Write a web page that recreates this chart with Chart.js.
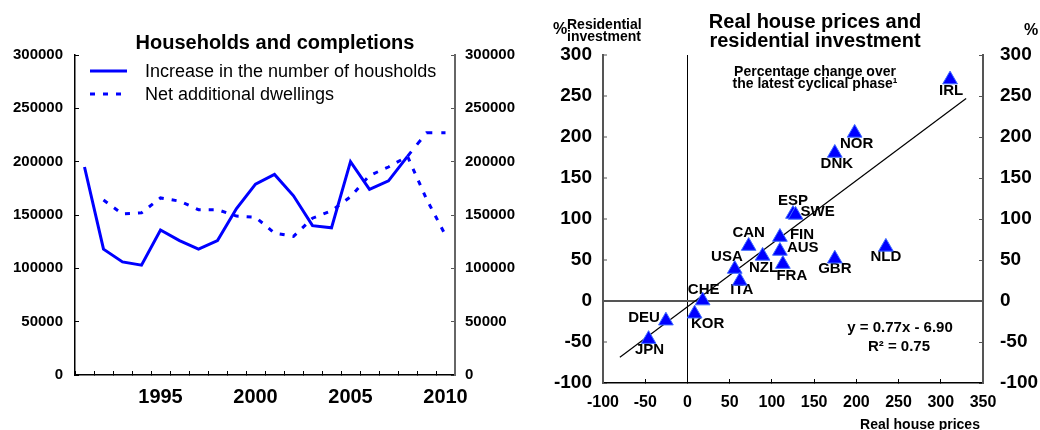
<!DOCTYPE html>
<html>
<head>
<meta charset="utf-8">
<script src="https://cdn.jsdelivr.net/npm/chart.js@4.4.1/dist/chart.umd.min.js"></script>
<style>
  html, body { margin: 0; padding: 0; background: #fff; }
  .wrap { display: flex; width: 1040px; height: 430px; }
  .box { position: relative; width: 520px; height: 430px; }
</style>
</head>
<body>
<div class="wrap">
  <div class="box"><canvas id="households-chart"></canvas></div>
  <div class="box"><canvas id="prices-chart"></canvas></div>
</div>
<script>
// <-- data for the households panel -->
const years = ["1991", "1992", "1993", "1994", "1995", "1996", "1997", "1998", "1999", "2000",
    "2001", "2002", "2003", "2004", "2005", "2006", "2007", "2008", "2009", "2010"];
const yearLabels = ["1995", "2000", "2005", "2010"];
const households = [195000, 118000, 106000, 103000, 136000, 126000, 118000, 126000, 156000, 179000,
    188000, 168000, 140000, 138000, 200000, 174000, 182000, 205000, 227000, 227000];
const dwellings = [null, 164000, 151000, 152000, 166000, 163000, 155000, 155000, 149000, 148000,
    133000, 130000, 147000, 154000, 167000, 187000, 195000, 205000, 165000, 131000];
const projectedFrom = "2008"; // households drawn dashed after this year

// <-- data for the house prices panel -->
const countries = ["IRL", "NOR", "DNK", "ESP", "SWE", "CAN", "FIN", "AUS", "USA",
    "NZL", "FRA", "ITA", "GBR", "NLD", "CHE", "KOR", "DEU", "JPN"];
const housePrices = [311, 198, 174.5, 125, 128, 72.5, 109.5, 109.5, 56,
    89, 113, 62, 174.5, 235, 18, 8.5, -25.5, -46];
const resInvestment = [270, 205, 180.5, 106, 105, 67, 78, 61, 39,
    55, 45, 24.5, 51.5, 66, 0.5, -15.5, -24, -46.5];
const trendX = [-80, 330];
const trendY = [-68.5, 247];

const FONT = '"Liberation Sans", Arial, sans-serif';
const BLUE = '#0000ff';

// where each country name sits next to its triangle: dx, dy, align
const labelPlacement = {
    IRL: [1, 11, 'center'], NOR: [2, 11, 'center'], DNK: [2, 11, 'center'],
    ESP: [0, -13, 'center'], SWE: [5, -3, 'left'], CAN: [0, -13, 'center'],
    FIN: [10, -2, 'left'], AUS: [7, -3, 'left'], USA: [8, -12, 'right'],
    NZL: [1, 12, 'center'], FRA: [9, 12, 'center'], ITA: [2, 9, 'center'],
    GBR: [0, 10, 'center'], NLD: [0, 10, 'center'], CHE: [1, -11, 'center'],
    KOR: [13, 10, 'center'], DEU: [-6, -3, 'right'], JPN: [1, 11, 'center']
};


// <-- Households and completions line chart -->
const householdsLegend = {
    id: 'householdsLegend',
    afterDraw(chart) {
        const ctx = chart.ctx;
        ctx.save();
        ctx.fillStyle = '#000';
        ctx.textBaseline = 'middle';
        ctx.textAlign = 'center';
        ctx.font = 'bold 20px ' + FONT;
        ctx.fillText('Households and completions', 275, 43);

        chart.data.datasets.forEach((ds, i) => {
            const y = 71 + i * 23;
            ctx.beginPath();
            ctx.setLineDash(ds.borderDash || []);
            ctx.lineWidth = ds.borderWidth;
            ctx.strokeStyle = ds.borderColor;
            ctx.moveTo(90, y);
            ctx.lineTo(127, y);
            ctx.stroke();
            ctx.setLineDash([]);
            ctx.font = '18px ' + FONT;
            ctx.textAlign = 'left';
            ctx.fillText(ds.label, 145, y + 1);
        });
        ctx.restore();
    }
};

const projIndex = years.indexOf(projectedFrom);

const householdsChart = new Chart(document.getElementById('households-chart'), {
    type: 'line',
    data: {
        labels: years,
        datasets: [{
            label: 'Increase in the number of housholds',
            data: households,
            borderColor: BLUE,
            borderWidth: 3,
            pointRadius: 0,
            tension: 0,
            segment: {
                borderDash: c => c.p0DataIndex >= projIndex ? [6, 9] : undefined
            }
        }, {
            label: 'Net additional dwellings',
            data: dwellings,
            borderColor: BLUE,
            borderWidth: 3,
            borderDash: [5, 8],
            pointRadius: 0,
            tension: 0
        }]
    },
    options: {
        responsive: true,
        maintainAspectRatio: false,
        animation: false,
        layout: { padding: { top: 55 } },
        plugins: { legend: { display: false }, tooltip: { enabled: false } },
        scales: {
            x: {
                offset: true,
                grid: { offset: true, drawOnChartArea: false, tickLength: -4, color: '#000' },
                border: { color: '#000', width: 1.5 },
                ticks: {
                    autoSkip: false,
                    maxRotation: 0,
                    padding: 14,
                    color: '#000',
                    font: { family: FONT, size: 20, weight: 'bold' },
                    callback: function (v) {
                        const y = this.getLabelForValue(v);
                        return yearLabels.includes(y) ? y : '';
                    }
                },
                afterFit: s => { s.height = 55; }
            },
            y: {
                position: 'left',
                min: 0, max: 300000,
                grid: { drawOnChartArea: false, tickLength: -4, color: '#000' },
                border: { color: '#000', width: 1.5 },
                ticks: {
                    stepSize: 50000, padding: 16, color: '#000',
                    font: { family: FONT, size: 15, weight: 'bold' },
                    callback: v => String(v)
                },
                afterFit: s => { s.width = 75; }
            },
            y2: {
                position: 'right',
                min: 0, max: 300000,
                grid: { drawOnChartArea: false, tickLength: -4, color: '#555' },
                border: { color: '#666', width: 2 },
                ticks: {
                    stepSize: 50000, padding: 14, color: '#000',
                    font: { family: FONT, size: 15, weight: 'bold' },
                    callback: v => String(v)
                },
                afterFit: s => { s.width = 65; }
            }
        }
    },
    plugins: [householdsLegend]
});


// <-- Real house prices scatter chart -->
const countryLabels = {
    id: 'countryLabels',
    beforeDatasetsDraw(chart) {
        const ctx = chart.ctx;
        const meta = chart.getDatasetMeta(0);
        ctx.save();
        ctx.font = 'bold 15px ' + FONT;
        ctx.fillStyle = '#000';
        ctx.textBaseline = 'middle';
        meta.data.forEach((pt, i) => {
            const p = labelPlacement[countries[i]];
            ctx.textAlign = p[2];
            ctx.fillText(countries[i], pt.x + p[0], pt.y + p[1]);
        });
        ctx.restore();
    }
};

const pricesText = {
    id: 'pricesText',
    afterDraw(chart) {
        const ctx = chart.ctx;
        ctx.save();
        ctx.fillStyle = '#000';
        ctx.textBaseline = 'middle';
        ctx.textAlign = 'center';
        ctx.font = 'bold 20px ' + FONT;
        ctx.fillText('Real house prices and', 295, 22);
        ctx.fillText('residential investment', 295, 41);
        ctx.font = 'bold 14px ' + FONT;
        ctx.fillText('Percentage change over', 295, 72);
        ctx.fillText('the latest cyclical phase\u00b9', 295, 84);
        ctx.font = 'bold 15px ' + FONT;
        ctx.fillText('y = 0.77x - 6.90', 380, 328);
        ctx.fillText('R\u00b2 = 0.75', 379, 347);
        ctx.font = 'bold 14px ' + FONT;
        ctx.fillText('Real house prices', 400, 425);
        ctx.font = 'bold 16px ' + FONT;
        ctx.fillText('%', 40, 30);
        ctx.fillText('%', 511, 31);
        ctx.textAlign = 'left';
        ctx.font = 'bold 14px ' + FONT;
        ctx.fillText('Residential', 47, 25);
        ctx.fillText('investment', 47, 37);
        ctx.restore();
    }
};

const pointData = countries.map((c, i) => ({ x: housePrices[i], y: resInvestment[i] }));
const trendData = trendX.map((x, i) => ({ x: x, y: trendY[i] }));

const pricesChart = new Chart(document.getElementById('prices-chart'), {
    type: 'scatter',
    data: {
        datasets: [{
            label: 'Countries',
            data: pointData,
            pointStyle: 'triangle',
            pointRadius: 8.5,
            backgroundColor: '#0000ff',
            borderColor: '#3f6bff',
            borderWidth: 1
        }, {
            label: 'Trend',
            data: trendData,
            showLine: true,
            borderColor: '#000',
            borderWidth: 1.2,
            pointRadius: 0
        }]
    },
    options: {
        responsive: true,
        maintainAspectRatio: false,
        animation: false,
        layout: { padding: { top: 55 } },
        plugins: { legend: { display: false }, tooltip: { enabled: false } },
        scales: {
            x: {
                type: 'linear',
                min: -100, max: 350,
                grid: {
                    tickLength: -4,
                    color: c => c.tick && c.tick.value === 0 ? '#000' : 'rgba(0,0,0,0)',
                    tickColor: '#000',
                    lineWidth: 1
                },
                border: { color: '#000', width: 1.5 },
                ticks: {
                    stepSize: 50, padding: 14, color: '#000', maxRotation: 0,
                    font: { family: FONT, size: 16, weight: 'bold' }
                },
                afterFit: s => { s.height = 47; }
            },
            y: {
                position: 'left',
                min: -100, max: 300,
                grid: {
                    tickLength: -4,
                    color: c => c.tick && c.tick.value === 0 ? '#555' : 'rgba(0,0,0,0)',
                    tickColor: '#555',
                    lineWidth: 2,
                    tickWidth: 1
                },
                border: { color: '#555', width: 2 },
                ticks: {
                    stepSize: 50, padding: 15, color: '#000',
                    font: { family: FONT, size: 19, weight: 'bold' }
                },
                afterFit: s => { s.width = 83; }
            },
            y2: {
                position: 'right',
                min: -100, max: 300,
                grid: { drawOnChartArea: false, tickLength: -4, color: '#555' },
                border: { color: '#555', width: 2 },
                ticks: {
                    stepSize: 50, padding: 21, color: '#000',
                    font: { family: FONT, size: 19, weight: 'bold' }
                },
                afterFit: s => { s.width = 57; }
            }
        }
    },
    plugins: [countryLabels, pricesText]
});
</script>
</body>
</html>
